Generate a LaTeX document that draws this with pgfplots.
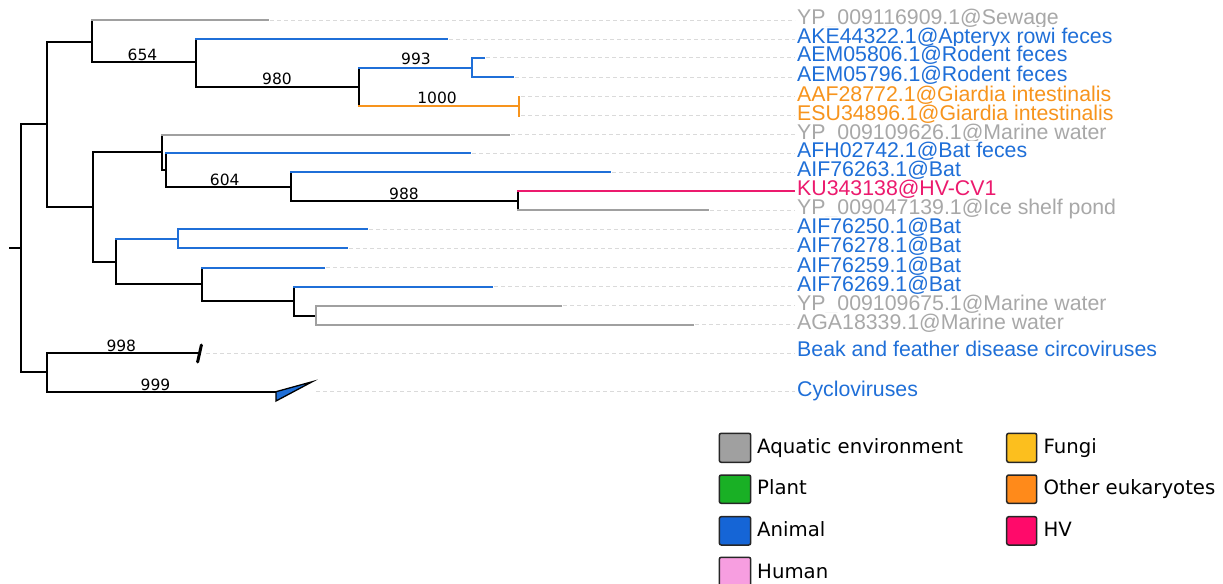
\documentclass[border=0pt]{standalone}
\usepackage{fontspec}
\setmainfont{Liberation Sans}
\newfontfamily\dejavu{DejaVu Sans}
\usepackage{pgfplots}
\pgfplotsset{compat=1.18}

\definecolor{cgray}{HTML}{A0A0A0}
\definecolor{tgray}{HTML}{A8A8A8}
\definecolor{cblue}{HTML}{1F6FD8}
\definecolor{corange}{HTML}{F7941D}
\definecolor{cpink}{HTML}{EC1A6E}
\definecolor{cguide}{HTML}{DADADA}
\definecolor{lgray}{HTML}{A0A0A0}
\definecolor{lgreen}{HTML}{19B025}
\definecolor{lblue}{HTML}{1565D6}
\definecolor{lhuman}{HTML}{F79EE0}
\definecolor{lfungi}{HTML}{FCBF1E}
\definecolor{lorange}{HTML}{FF8A1A}
\definecolor{lhv}{HTML}{FF0A6A}

% leaf label: baseline y, colour, text
\newcommand{\leaf}[3]{\node[anchor=base west, text=#2, fill=white, inner xsep=0pt, inner ysep=0.8bp,
  font=\fontsize{21.3bp}{21.3bp}\selectfont] at (axis cs:797,#1) {#3};}
% bootstrap value
\newcommand{\boot}[3]{\node[anchor=base, inner sep=0pt, font=\dejavu\fontsize{15.5bp}{15.5bp}\selectfont]
  at (axis cs:#1,#2) {#3};}
% legend entry
\newcommand{\legtext}[3]{\node[anchor=base west, inner sep=0pt, font=\dejavu\fontsize{19.7bp}{19.7bp}\selectfont]
  at (axis cs:#1,#2) {#3};}

\begin{document}
\begin{tikzpicture}
\begin{axis}[
    width=1223bp, height=584bp, scale only axis,
    xmin=0, xmax=1223, ymin=0, ymax=584, y dir=reverse,
    hide axis, clip=false,
    every axis plot/.append style={no markers, line width=2bp, line cap=rect},
    guide/.style={cguide, line width=0.8bp, line cap=butt, dash pattern=on 4bp off 3bp},
]
% guide lines
\addplot[guide] coordinates {(270,20) (795,20)};
\addplot[guide] coordinates {(449,39.3) (795,39.3)};
\addplot[guide] coordinates {(486,57.7) (795,57.7)};
\addplot[guide] coordinates {(515,77) (795,77)};
\addplot[guide] coordinates {(521,96.7) (795,96.7)};
\addplot[guide] coordinates {(521,115.7) (795,115.7)};
\addplot[guide] coordinates {(511,134.7) (795,134.7)};
\addplot[guide] coordinates {(472,153.3) (795,153.3)};
\addplot[guide] coordinates {(612,172.3) (795,172.3)};
\addplot[guide] coordinates {(710,210) (795,210)};
\addplot[guide] coordinates {(369,229.3) (795,229.3)};
\addplot[guide] coordinates {(349,248.3) (795,248.3)};
\addplot[guide] coordinates {(326,267.7) (795,267.7)};
\addplot[guide] coordinates {(494,286.7) (795,286.7)};
\addplot[guide] coordinates {(563,305.7) (795,305.7)};
\addplot[guide] coordinates {(695,324.7) (795,324.7)};
\addplot[guide] coordinates {(206,353.3) (795,353.3)};
\addplot[guide] coordinates {(316,391.7) (795,391.7)};

% backbone
\addplot[black] coordinates {(10,247.7) (20.7,247.7)};
\addplot[black] coordinates {(20.7,124) (20.7,372.3)};
\addplot[black] coordinates {(20.7,124) (46.7,124)};
\addplot[black] coordinates {(46.7,41.7) (46.7,206.7)};
% first clade
\addplot[black] coordinates {(46.7,41.7) (92,41.7)};
\addplot[black] coordinates {(92,20) (92,62.3)};
\addplot[cgray] coordinates {(92,20) (268.3,20)};
\addplot[black] coordinates {(92,62.3) (195.7,62.3)};
\addplot[black] coordinates {(195.7,39.3) (195.7,86.7)};
\addplot[cblue] coordinates {(195.7,39.3) (447.3,39.3)};
\addplot[black] coordinates {(195.7,86.7) (359,86.7)};
\addplot[black] coordinates {(359,67.7) (359,105.7)};
\addplot[cblue] coordinates {(359,67.7) (472.3,67.7)};
\addplot[cblue] coordinates {(472.3,57.7) (472.3,77)};
\addplot[cblue] coordinates {(472.3,57.7) (484.3,57.7)};
\addplot[cblue] coordinates {(472.3,77) (513.3,77)};
\addplot[corange] coordinates {(359,105.7) (519,105.7)};
\addplot[corange] coordinates {(519,96.7) (519,115.7)};
% second clade
\addplot[black] coordinates {(46.7,206.7) (92.7,206.7)};
\addplot[black] coordinates {(92.7,152.3) (92.7,261.7)};
\addplot[black] coordinates {(92.7,152.3) (161.7,152.3)};
\addplot[black] coordinates {(161.7,134.7) (161.7,170)};
\addplot[cgray] coordinates {(161.7,134.7) (509,134.7)};
\addplot[black] coordinates {(161.7,170) (165.7,170)};
\addplot[black] coordinates {(165.7,153.3) (165.7,186.7)};
\addplot[cblue] coordinates {(165.7,153.3) (470,153.3)};
\addplot[black] coordinates {(165.7,186.7) (291,186.7)};
\addplot[black] coordinates {(291,172.3) (291,201)};
\addplot[cblue] coordinates {(291,172.3) (610,172.3)};
\addplot[black] coordinates {(291,201) (518.3,201)};
\addplot[black] coordinates {(518.3,191.3) (518.3,210)};
\addplot[cpink] coordinates {(518.3,191.3) (794,191.3)};
\addplot[cgray] coordinates {(518.3,210) (708.3,210)};
% third clade
\addplot[black] coordinates {(92.7,261.7) (116,261.7)};
\addplot[black] coordinates {(116,239) (116,284.3)};
\addplot[cblue] coordinates {(116,239) (178.3,239)};
\addplot[cblue] coordinates {(178.3,229.3) (178.3,248.3)};
\addplot[cblue] coordinates {(178.3,229.3) (366.7,229.3)};
\addplot[cblue] coordinates {(178.3,248.3) (347.3,248.3)};
\addplot[black] coordinates {(116,284.3) (201.7,284.3)};
\addplot[black] coordinates {(201.7,267.7) (201.7,300.7)};
\addplot[cblue] coordinates {(201.7,267.7) (324,267.7)};
\addplot[black] coordinates {(201.7,300.7) (294,300.7)};
\addplot[black] coordinates {(294,286.7) (294,315.7)};
\addplot[cblue] coordinates {(294,286.7) (492.3,286.7)};
\addplot[black] coordinates {(294,315.7) (316,315.7)};
\addplot[cgray] coordinates {(316,305.7) (316,324.7)};
\addplot[cgray] coordinates {(316,305.7) (561,305.7)};
\addplot[cgray] coordinates {(316,324.7) (692.7,324.7)};
% outgroups
\addplot[black] coordinates {(20.7,372.3) (46.7,372.3)};
\addplot[black] coordinates {(46.7,353.3) (46.7,391.7)};
\addplot[black] coordinates {(46.7,353.3) (198,353.3)};
\addplot[black, line width=3bp, line cap=round] coordinates {(197.6,362) (201.4,345)};
\addplot[black] coordinates {(46.7,391.7) (276,391.7)};
\addplot[fill=cblue, draw=black, line width=1.3bp, line cap=butt, line join=miter]
  coordinates {(276,391.7) (276,401) (312.3,381.7)} --cycle;

% bootstrap values
\boot{142.5}{60.8}{654}
\boot{277}{84.3}{980}
\boot{416}{65}{993}
\boot{437}{103.3}{1000}
\boot{224.7}{185}{604}
\boot{404}{199.3}{988}
\boot{121.3}{351.5}{998}
\boot{155.5}{390}{999}

% leaf labels
\leaf{24.3}{tgray}{YP\_009116909.1@Sewage}
\leaf{43.6}{cblue}{AKE44322.1@Apteryx rowi feces}
\leaf{62}{cblue}{AEM05806.1@Rodent feces}
\leaf{81.3}{cblue}{AEM05796.1@Rodent feces}
\leaf{101}{corange}{AAF28772.1@Giardia intestinalis}
\leaf{120}{corange}{ESU34896.1@Giardia intestinalis}
\leaf{139}{tgray}{YP\_009109626.1@Marine water}
\leaf{157.6}{cblue}{AFH02742.1@Bat feces}
\leaf{176.6}{cblue}{AIF76263.1@Bat}
\leaf{195.6}{cpink}{KU343138@HV-CV1}
\leaf{214.3}{tgray}{YP\_009047139.1@Ice shelf pond}
\leaf{233.6}{cblue}{AIF76250.1@Bat}
\leaf{252.6}{cblue}{AIF76278.1@Bat}
\leaf{272}{cblue}{AIF76259.1@Bat}
\leaf{291}{cblue}{AIF76269.1@Bat}
\leaf{310}{tgray}{YP\_009109675.1@Marine water}
\leaf{329}{tgray}{AGA18339.1@Marine water}
\leaf{356.5}{cblue}{Beak and feather disease circoviruses}
\leaf{396}{cblue}{Cycloviruses}

% legend boxes
\addplot[fill=lgray, draw=black!85, line width=1.5bp, rounded corners=2bp]
  coordinates {(719.3,433.3) (750.7,433.3) (750.7,462.3) (719.3,462.3)} --cycle;
\addplot[fill=lgreen, draw=black!85, line width=1.5bp, rounded corners=2bp]
  coordinates {(719.3,475) (750.7,475) (750.7,503.3) (719.3,503.3)} --cycle;
\addplot[fill=lblue, draw=black!85, line width=1.5bp, rounded corners=2bp]
  coordinates {(719.3,516.7) (750.7,516.7) (750.7,545) (719.3,545)} --cycle;
\addplot[fill=lhuman, draw=black!85, line width=1.5bp, rounded corners=2bp]
  coordinates {(719.3,557.3) (750.7,557.3) (750.7,586) (719.3,586)} --cycle;
\addplot[fill=lfungi, draw=black!85, line width=1.5bp, rounded corners=2bp]
  coordinates {(1006.7,433.3) (1036.7,433.3) (1036.7,462.3) (1006.7,462.3)} --cycle;
\addplot[fill=lorange, draw=black!85, line width=1.5bp, rounded corners=2bp]
  coordinates {(1006.7,475) (1036.7,475) (1036.7,503.3) (1006.7,503.3)} --cycle;
\addplot[fill=lhv, draw=black!85, line width=1.5bp, rounded corners=2bp]
  coordinates {(1006.7,516.7) (1036.7,516.7) (1036.7,545) (1006.7,545)} --cycle;

\legtext{757}{453.3}{Aquatic environment}
\legtext{757}{494}{Plant}
\legtext{757}{536}{Animal}
\legtext{757}{578.3}{Human}
\legtext{1043.3}{453.3}{Fungi}
\legtext{1043.3}{494}{Other eukaryotes}
\legtext{1043.3}{536}{HV}
\end{axis}
\pgfresetboundingbox
\path[use as bounding box] (0,0) rectangle (1223bp,584bp);
\end{tikzpicture}
\end{document}
